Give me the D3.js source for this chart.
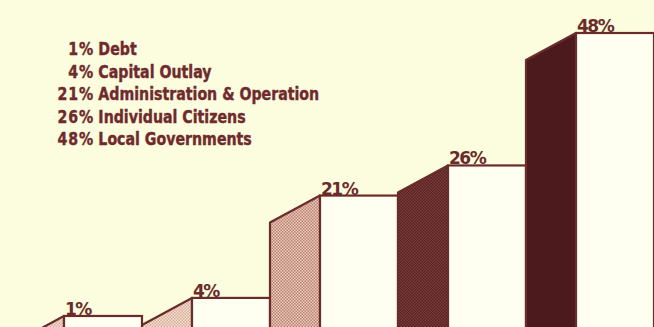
<!DOCTYPE html>
<html>
<head>
<meta charset="utf-8">
<script src="https://cdn.jsdelivr.net/npm/d3@7"></script>
<style>
  html, body { margin: 0; padding: 0; background: #fcfcde; }
  svg { display: block; }
</style>
</head>
<body>
<script>
// Chart data
const categories = ["Debt", "Capital Outlay", "Administration & Operation", "Individual Citizens", "Local Governments"];
const shares = [1, 4, 21, 26, 48];
const sideFills = ["url(#dotsLight)", "url(#dotsLight)", "url(#dotsPink)", "url(#dotsDark)", "#4c1a1d"];

const width = 654, height = 327;
const ink = "#6a2b2b";

const svg = d3.select("body").append("svg")
  .attr("width", width)
  .attr("height", height)
  .style("background", "#fcfcde");

// Stipple patterns for the side faces
const defs = svg.append("defs");
function stipple(id, bg, dot, size) {
  const p = defs.append("pattern")
    .attr("id", id)
    .attr("patternUnits", "userSpaceOnUse")
    .attr("width", size)
    .attr("height", size);
  p.append("rect").attr("width", size).attr("height", size).attr("fill", bg);
  p.append("rect").attr("width", size / 2).attr("height", size / 2).attr("fill", dot);
  p.append("rect").attr("x", size / 2).attr("y", size / 2)
    .attr("width", size / 2).attr("height", size / 2).attr("fill", dot);
}
stipple("dotsLight", "#f6e2cf", "#d6ab9b", 3);
stipple("dotsPink", "#ecc8b8", "#b98474", 3);
stipple("dotsDark", "#562022", "#7c3e3a", 3);

// Scales
const x = d3.scaleBand()
  .domain(categories)
  .range([14, 654])
  .paddingInner(0);

const y = d3.scaleLinear()
  .domain([0, 48])
  .range([322, 33]);

const sideW = 50;   // width of the slanted side face
const slant = 27;   // how much lower the side face starts
const bottom = height + 20;

const data = categories.map((c, i) => ({ name: c, value: shares[i], fill: sideFills[i] }));

const bars = svg.append("g")
  .selectAll("g.bar")
  .data(data)
  .enter()
  .append("g")
  .attr("class", "bar");

// side face
bars.append("path")
  .attr("d", d => {
    const x0 = x(d.name), x1 = x0 + sideW, yt = y(d.value);
    return `M${x0},${bottom} L${x0},${yt + slant} L${x1},${yt} L${x1},${bottom} Z`;
  })
  .attr("fill", d => d.fill)
  .attr("stroke", ink)
  .attr("stroke-width", 2.2)
  .attr("stroke-linejoin", "round");

// front face
bars.append("rect")
  .attr("x", d => x(d.name) + sideW)
  .attr("y", d => y(d.value))
  .attr("width", x.bandwidth() - sideW)
  .attr("height", d => bottom - y(d.value))
  .attr("fill", "#fefef1")
  .attr("stroke", ink)
  .attr("stroke-width", 2.2);

// value labels
bars.append("text")
  .attr("x", d => x(d.name) + sideW + 1)
  .attr("y", d => y(d.value) - 1)
  .attr("font-family", "DejaVu Sans, sans-serif")
  .attr("font-size", 17)
  .attr("font-weight", "bold")
  .attr("letter-spacing", -1.5)
  .attr("fill", ink)
  .text(d => d.value + "%");

// Legend
const legend = svg.append("g")
  .attr("font-family", "'DejaVu Sans Condensed', 'Liberation Sans Narrow', sans-serif")
  .attr("font-stretch", "condensed")
  .attr("font-weight", "bold")
  .attr("font-size", 18)
  .attr("fill", "#6e2a2c")
  .attr("stroke", "#6e2a2c")
  .attr("stroke-width", 0.4);

const rows = legend.selectAll("g")
  .data(data)
  .enter()
  .append("g")
  .attr("transform", (d, i) => `translate(94, ${55 + i * 22.5}) scale(0.875, 1)`);

rows.append("text")
  .attr("text-anchor", "end")
  .attr("letter-spacing", 1)
  .text(d => d.value + "%");

rows.append("text")
  .attr("x", 5)
  .text(d => d.name);
</script>
</body>
</html>
